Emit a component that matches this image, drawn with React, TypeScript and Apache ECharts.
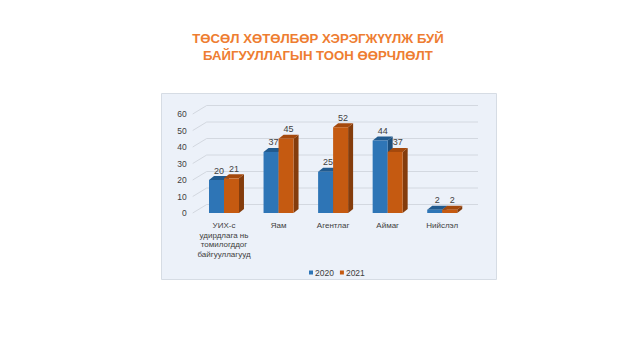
import React, { useEffect, useRef } from "react";
import * as echarts from "echarts";

const categories = [
  "УИХ-с\nудирдлага нь\nтомилогддог\nбайгууллагууд",
  "Яам",
  "Агентлаг",
  "Аймаг",
  "Нийслэл",
];
const values2020 = [20, 37, 25, 44, 2];
const values2021 = [21, 45, 52, 37, 2];
const seriesNames = ["2020", "2021"];
const yTicks = [0, 10, 20, 30, 40, 50, 60];
const titleLines = ["ТӨСӨЛ ХӨТӨЛБӨР ХЭРЭГЖҮҮЛЖ БУЙ", "БАЙГУУЛЛАГЫН ТООН ӨӨРЧЛӨЛТ"];

const palettes = [
  { front: "#2E75B6", top: "#215A8E", side: "#1C4E7C" },
  { front: "#C55A11", top: "#A4490D", side: "#843C0C" },
];

const BAR_W = 15;
const DX = 5;
const DY = 4;

function makeBarSeries(idx: number, vals: number[]) {
  const pal = palettes[idx];
  return {
    name: seriesNames[idx],
    type: "custom",
    itemStyle: { color: pal.front },
    data: vals.map((v, i) => [i, v]),
    encode: { x: 0, y: 1 },
    z: 3,
    renderItem: (params: any, api: any) => {
      const ci = api.value(0);
      const v = api.value(1);
      const top = api.coord([ci, v]);
      const base = api.coord([ci, 0]);
      const x0 = idx === 0 ? top[0] - BAR_W : top[0];
      const x1 = x0 + BAR_W;
      const yT = top[1];
      const yB = base[1];
      return {
        type: "group",
        children: [
          {
            type: "polygon",
            shape: { points: [[x1, yB], [x1 + DX, yB - DY], [x1 + DX, yT - DY], [x1, yT]] },
            style: { fill: pal.side },
          },
          {
            type: "polygon",
            shape: { points: [[x0, yT], [x0 + DX, yT - DY], [x1 + DX, yT - DY], [x1, yT]] },
            style: { fill: pal.top },
          },
          {
            type: "rect",
            shape: { x: x0, y: yT, width: BAR_W, height: yB - yT },
            style: { fill: pal.front },
          },
          {
            type: "text",
            style: {
              text: String(v),
              x: x0 + BAR_W / 2 + DX / 2,
              y: yT - DY - 1,
              align: "center",
              verticalAlign: "bottom",
              fill: "#404040",
              font: "9px 'Liberation Sans', Arial, sans-serif",
            },
          },
        ],
      };
    },
  };
}

export default function App() {
  const ref = useRef<HTMLDivElement>(null);
  useEffect(() => {
    const chart = echarts.init(ref.current!, null, { renderer: "svg" });
    chart.setOption({
      animation: false,
      textStyle: { fontFamily: "'Liberation Sans', Arial, sans-serif" },
      graphic: [
        {
          type: "rect",
          z: -10,
          shape: { x: 161.5, y: 93.5, width: 335, height: 186 },
          style: { fill: "#ECF1F9", stroke: "#D6DCE4", lineWidth: 1 },
        },
        {
          type: "text",
          x: 318,
          y: 38,
          style: {
            text: titleLines[0],
            align: "center",
            verticalAlign: "middle",
            fill: "#EE7D31",
            font: "bold 13.2px 'Liberation Sans', Arial, sans-serif",
          },
        },
        {
          type: "text",
          x: 318,
          y: 55,
          style: {
            text: titleLines[1],
            align: "center",
            verticalAlign: "middle",
            fill: "#EE7D31",
            font: "bold 13.2px 'Liberation Sans', Arial, sans-serif",
          },
        },
      ],
      grid: { left: 196.7, right: 170.5, top: 114, bottom: 147 },
      xAxis: {
        type: "category",
        data: categories,
        axisLine: { show: false },
        axisTick: { show: false },
        axisLabel: {
          margin: 8,
          color: "#404040",
          fontSize: 8,
          lineHeight: 9.5,
          interval: 0,
        },
      },
      yAxis: {
        type: "value",
        min: 0,
        max: 60,
        interval: 10,
        axisLine: { show: false },
        axisTick: { show: false },
        splitLine: { show: false },
        axisLabel: { color: "#404040", fontSize: 8.5, margin: 10 },
      },
      legend: {
        data: seriesNames,
        left: 304,
        top: 263,
        icon: "rect",
        itemWidth: 4,
        itemHeight: 4,
        itemGap: 6,
        textStyle: { color: "#404040", fontSize: 8.5, padding: [0, 0, 0, -3] },
      },
      series: [
        {
          name: "grid",
          type: "custom",
          z: 1,
          silent: true,
          data: yTicks.map((t) => [0, t]),
          encode: { x: 0, y: 1 },
          renderItem: (params: any, api: any) => {
            const cs = params.coordSys;
            const p = api.coord([0, api.value(1)]);
            const y = p[1];
            return {
              type: "polyline",
              shape: {
                points: [
                  [cs.x - 4, y],
                  [cs.x + 10, y - 8.5],
                  [cs.x + cs.width + 8.5, y - 8.5],
                ],
              },
              style: { stroke: "#D3D8E0", lineWidth: 1, fill: "none" },
            };
          },
        },
        makeBarSeries(0, values2020),
        makeBarSeries(1, values2021),
      ],
    });
    return () => chart.dispose();
  }, []);
  return <div ref={ref} style={{ width: 640, height: 360, position: "absolute", left: 0, top: 0 }} />;
}
